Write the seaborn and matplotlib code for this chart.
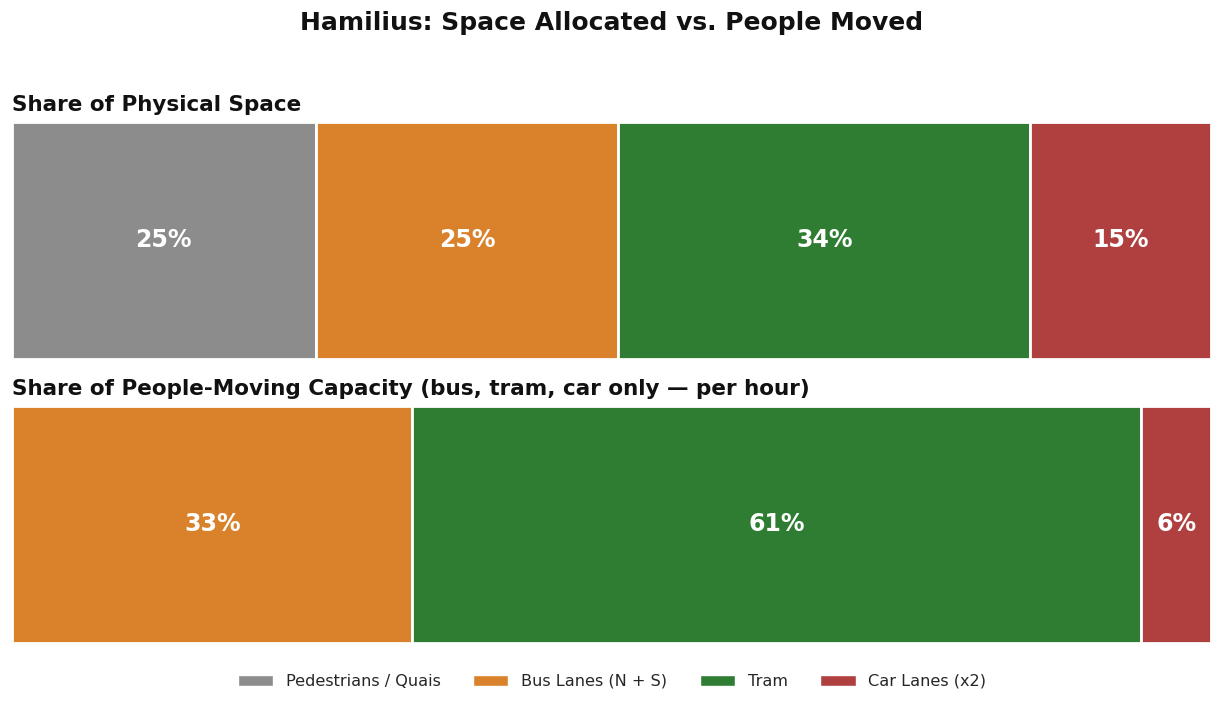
import matplotlib
matplotlib.use("Agg")
import matplotlib.pyplot as plt
import seaborn as sns
from matplotlib.patches import Patch

sns.set_theme(style="white")
plt.rcParams["font.family"] = ["DejaVu Sans"]

# Data
categories = ["Pedestrians / Quais", "Bus Lanes (N + S)", "Tram", "Car Lanes (x2)"]
colors = ["#8c8c8c", "#d9822b", "#2e7d32", "#b04040"]

space_share = [25.2, 25.1, 34.2, 15.0]
space_labels = ["25%", "25%", "34%", "15%"]

capacity_cats = ["Bus Lanes (N + S)", "Tram", "Car Lanes (x2)"]
capacity_share = [33.4, 60.8, 5.8]
capacity_labels = ["33%", "61%", "6%"]

color_map = dict(zip(categories, colors))

fig = plt.figure(figsize=(12.24, 7.09), dpi=100)
ax1 = fig.add_axes([0.0098, 0.4937, 0.9796, 0.3343])
ax2 = fig.add_axes([0.0098, 0.0931, 0.9796, 0.3343])


def stacked(ax, cats, vals, labels, title):
    left = 0
    for c, v, lab in zip(cats, vals, labels):
        ax.barh(0, v, left=left, height=1.0, color=color_map[c],
                edgecolor="white", linewidth=2)
        ax.text(left + v / 2, 0, lab, ha="center", va="center",
                color="white", fontsize=17, fontweight="bold")
        left += v
    ax.set_xlim(0, left)
    ax.set_ylim(-0.5, 0.5)
    ax.set_xticks([])
    ax.set_yticks([])
    for s in ax.spines.values():
        s.set_visible(False)
    ax.set_title(title, loc="left", fontsize=15.5, fontweight="bold",
                 color="#111111", pad=8)


stacked(ax1, categories, space_share, space_labels, "Share of Physical Space")
stacked(ax2, capacity_cats, capacity_share, capacity_labels,
        "Share of People-Moving Capacity (bus, tram, car only \u2014 per hour)")

fig.suptitle("Hamilius: Space Allocated vs. People Moved", fontsize=18,
             fontweight="bold", color="#111111", y=0.985)

handles = [Patch(facecolor=color_map[c], edgecolor="white", label=c) for c in categories]
fig.legend(handles=handles, loc="center", bbox_to_anchor=(0.5, 0.039), ncol=4,
           frameon=False, fontsize=11.6, handlelength=2.2, columnspacing=2.0)

fig.savefig("out.png", dpi=100)
